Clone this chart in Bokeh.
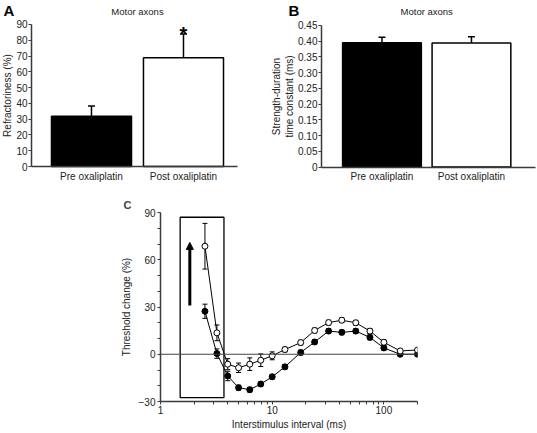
from bokeh.plotting import figure
from bokeh.layouts import column, row
from bokeh.models import (Range1d, FixedTicker, Whisker, TeeHead, ColumnDataSource, Label,
                          Span, Arrow, NormalHead, NumeralTickFormatter)
from bokeh.embed import file_html
from bokeh.resources import INLINE

FONT = "Liberation Sans"

# ---------------- data ----------------
groups = ["Pre oxaliplatin", "Post oxaliplatin"]
bar_colors = ["black", "white"]
panel_title = "Motor axons"

refractoriness = [31.8, 68.9]
refractoriness_sem = [6.5, 15.0]
a_ticks = [0, 10, 20, 30, 40, 50, 60, 70, 80, 90]

sd_time_constant = [0.395, 0.394]
sd_time_constant_sem = [0.017, 0.020]
b_ticks = [0, 0.05, 0.10, 0.15, 0.20, 0.25, 0.30, 0.35, 0.40, 0.45]
b_tick_labels = ["0", "0.05", "0.10", "0.15", "0.20", "0.25", "0.30", "0.35", "0.40", "0.45"]

isi = [2.5, 3.2, 4, 5, 6.3, 7.9, 10, 13, 18, 24, 32, 42, 56, 75, 100, 140, 200]
pre_threshold = [27.3, 0.4, -13.8, -21.2, -22.5, -18.9, -14.3, -8.0, 1.1, 7.8, 14.7, 13.9, 14.7, 10.7, 4.0, 0.0, 0.0]
pre_sem = [4.5, 3.0, 3.0, 1.5, 1.5, 1.5, 1.5, 1.5, 1.5, 1.5, 1.5, 1.5, 1.5, 1.5, 1.5, 1.0, 1.0]
post_threshold = [68.6, 13.6, -6.3, -8.6, -6.3, -3.8, -1.0, 3.0, 7.4, 15.1, 20.1, 21.6, 20.0, 14.7, 7.6, 2.1, 2.7]
post_sem = [14.5, 5.0, 3.5, 3.0, 4.0, 4.0, 2.5, 1.5, 1.5, 1.5, 1.5, 1.5, 1.5, 1.5, 1.5, 1.0, 1.0]
c_major_ticks = [-30, 0, 30, 60, 90]
c_minor_ticks = [-20, -10, 10, 20, 40, 50, 70, 80]
c_x_ticks = [1, 10, 100]
c_x_minor = [2, 3, 4, 5, 6, 7, 8, 9, 20, 30, 40, 50, 60, 70, 80, 90, 200]
highlight_isi = [1.5, 3.7]
highlight_threshold = [-27.5, 87.0]
arrow_isi = 1.83
arrow_threshold = [31.0, 71.0]

AXIS_COLOR = "#3a3a3a"
TEXT_COLOR = "#222222"


def style_axes(p):
    for ax in p.axis:
        ax.axis_line_color = AXIS_COLOR
        ax.axis_line_width = 1.5
        ax.major_tick_line_color = AXIS_COLOR
        ax.minor_tick_line_color = AXIS_COLOR
        ax.major_tick_in = 0
        ax.major_tick_out = 3
        ax.minor_tick_in = 0
        ax.minor_tick_out = 3
        ax.major_label_text_font = FONT
        ax.major_label_text_font_size = "10px"
        ax.major_label_text_color = TEXT_COLOR
        ax.major_label_standoff = 2
        ax.axis_label_text_font = FONT
        ax.axis_label_text_font_size = "10px"
        ax.axis_label_text_font_style = "normal"
        ax.axis_label_text_color = TEXT_COLOR
        ax.axis_label_standoff = 4
    p.xgrid.visible = False
    p.ygrid.visible = False
    p.outline_line_color = None


def bar_panel(values, sems, yticks, ylabels, y_top, y_span, frame_x, axis_x, bar_w, width,
              ylabel, letter, letter_x, title_dy, star):
    # the frame covers the whole canvas; both axes are fixed inside it and bounded,
    # so that titles, letters and the asterisk are not clipped
    p = figure(width=width, height=195, x_range=Range1d(*frame_x), y_range=Range1d(*y_span),
               output_backend="svg", toolbar_location=None,
               min_border_left=0, min_border_right=0, min_border_top=0, min_border_bottom=0)
    p.title.visible = False
    idx = list(range(len(groups)))
    src = ColumnDataSource(dict(x=idx, top=values,
                                upper=[v + s for v, s in zip(values, sems)],
                                fill=bar_colors))
    p.vbar(x="x", top="top", bottom=0, width=bar_w, fill_color="fill", line_color="black",
           line_width=1.5, source=src)
    p.add_layout(Whisker(base="x", lower="top", upper="upper", source=src,
                         line_color="black", line_width=1.5,
                         upper_head=TeeHead(size=7, line_color="black", line_width=1.5),
                         lower_head=None))
    p.yaxis.ticker = FixedTicker(ticks=yticks)
    p.yaxis.major_label_overrides = {t: l for t, l in zip(yticks, ylabels)}
    p.yaxis.axis_label = ylabel
    p.yaxis.bounds = (0, y_top)
    p.yaxis.fixed_location = axis_x[0]
    p.xaxis.ticker = FixedTicker(ticks=idx)
    p.xaxis.major_label_overrides = {i: g for i, g in zip(idx, groups)}
    p.xaxis.bounds = axis_x
    p.xaxis.fixed_location = 0
    style_axes(p)
    p.yaxis.major_label_standoff = 1
    p.yaxis.axis_label_standoff = 0
    p.xaxis.major_tick_out = 0
    p.xaxis.major_label_standoff = 4
    p.add_layout(Label(x=sum(idx) / len(idx), y=y_top, y_offset=title_dy, text=panel_title,
                       text_font=FONT, text_font_size="9.5px", text_align="center",
                       text_baseline="middle", text_color=TEXT_COLOR))
    p.add_layout(Label(x=letter_x, y=10, x_units="canvas", y_units="canvas", text=letter,
                       text_font=FONT, text_font_size="15px", text_font_style="bold",
                       text_baseline="middle", text_color="black"))
    if star:
        p.add_layout(Label(x=1, y=values[1] + sems[1], text="*", text_font=FONT,
                           text_font_size="20px", text_font_style="bold", text_align="center",
                           text_baseline="alphabetic", y_offset=0, text_color="black"))
    return p


pA = bar_panel(refractoriness, refractoriness_sem, a_ticks, [str(t) for t in a_ticks], 90,
               (-18.38, 105.21), (-0.989, 1.924), (-0.652, 1.587), 0.87, 268,
               "Refractoriness (%)", "A", 3, 13, True)
pB = bar_panel(sd_time_constant, sd_time_constant_sem, b_ticks, b_tick_labels, 0.45,
               (-0.0901, 0.5287), (-1.268, 1.738), (-0.676, 1.715), 0.88, 269,
               "Strength-duration\ntime constant (ms)", "B", 20, 14, False)

# ---------------- panel C ----------------
pC = figure(width=537, height=237, x_axis_type="log", x_range=Range1d(1, 200),
            y_range=Range1d(-30, 90), output_backend="svg", toolbar_location=None,
            min_border_left=160, min_border_right=120, min_border_top=16, min_border_bottom=30)
pC.add_layout(Span(location=0, dimension="width", line_color="#444444", line_width=1.2))
pC.quad(left=[highlight_isi[0]], right=[highlight_isi[1]], bottom=[highlight_threshold[0]],
        top=[highlight_threshold[1]], fill_color=None, line_color="black", line_width=1.3)
pC.add_layout(Arrow(x_start=arrow_isi, y_start=arrow_threshold[0], x_end=arrow_isi,
                    y_end=arrow_threshold[1], line_width=3, line_color="black",
                    end=NormalHead(size=7, fill_color="black", line_color="black")))

for vals, sems in ((pre_threshold, pre_sem), (post_threshold, post_sem)):
    src = ColumnDataSource(dict(x=isi, y=vals,
                                lo=[v - s for v, s in zip(vals, sems)],
                                hi=[v + s for v, s in zip(vals, sems)]))
    pC.add_layout(Whisker(base="x", lower="lo", upper="hi", source=src, level="underlay",
                          line_color="black", line_width=1,
                          upper_head=TeeHead(size=5, line_color="black", line_width=1),
                          lower_head=TeeHead(size=5, line_color="black", line_width=1)))
    pC.line("x", "y", source=src, line_color="black", line_width=1)
for vals, fill in ((pre_threshold, "black"), (post_threshold, "white")):
    pC.scatter(isi, vals, marker="circle", size=6, fill_color=fill, line_color="black",
               line_width=1)

pC.xaxis.ticker = FixedTicker(ticks=c_x_ticks, minor_ticks=c_x_minor)
pC.xaxis.formatter = NumeralTickFormatter(format="0")
pC.yaxis.ticker = FixedTicker(ticks=c_major_ticks, minor_ticks=c_minor_ticks)
pC.xaxis.axis_label = "Interstimulus interval (ms)"
pC.yaxis.axis_label = "Threshold change (%)"
style_axes(pC)
pC.xaxis.major_label_standoff = 1
pC.xaxis.axis_label_standoff = 2
pC.title.text = "C"
pC.title.align = "left"
pC.title.offset = -37
pC.title.standoff = 3
pC.title.text_font = FONT
pC.title.text_font_size = "11px"
pC.title.text_font_style = "bold"

layout = column(row(pA, pB), pC)
open("out.html", "w").write(file_html(layout, INLINE))
